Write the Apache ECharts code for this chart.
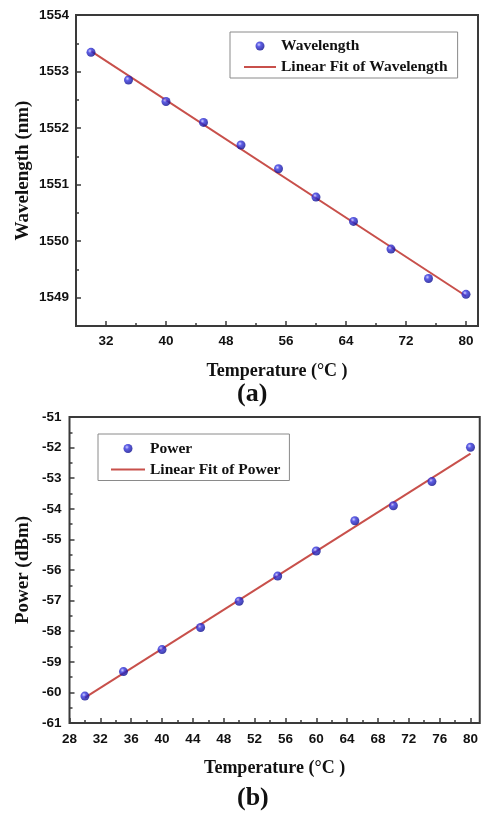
<!DOCTYPE html>
<html>
<head>
<meta charset="utf-8">
<script src="https://cdn.jsdelivr.net/npm/echarts@6/dist/echarts.min.js"></script>
<style>
  html, body { margin: 0; padding: 0; background: #fff; }
  #chart { width: 481px; height: 814px; }
</style>
</head>
<body>
<div id="chart"></div>
<script>
// (a) wavelength vs temperature
const tempA = [30, 35, 40, 45, 50, 55, 60, 65, 70, 75, 80]
const wavelength = [1553.34, 1552.85, 1552.47, 1552.10, 1551.70, 1551.28, 1550.78, 1550.35, 1549.86, 1549.34, 1549.06]
const wavelengthFitX = [30, 80]
const wavelengthFit = [1553.36, 1549.03]
const ticksAx = [32, 40, 48, 56, 64, 72, 80]
const minorAx = [36, 44, 52, 60, 68, 76]
const ticksAy = [1549, 1550, 1551, 1552, 1553, 1554]
const minorAy = [1549.5, 1550.5, 1551.5, 1552.5, 1553.5]

// (b) power vs temperature
const tempB = [30, 35, 40, 45, 50, 55, 60, 65, 70, 75, 80]
const power = [-60.12, -59.32, -58.6, -57.88, -57.02, -56.2, -55.38, -54.39, -53.9, -53.11, -51.99]
const powerFitX = [30, 80]
const powerFit = [-60.17, -52.2]
const ticksBx = [28, 32, 36, 40, 44, 48, 52, 56, 60, 64, 68, 72, 76, 80]
const minorBx = [30, 34, 38, 42, 46, 50, 54, 58, 62, 66, 70, 74, 78]
const ticksBy = [-61, -60, -59, -58, -57, -56, -55, -54, -53, -52, -51]
const minorBy = [-60.5, -59.5, -58.5, -57.5, -56.5, -55.5, -54.5, -53.5, -52.5, -51.5]

const chart = echarts.init(document.getElementById('chart'))

const sans = 'Liberation Sans'
const serif = 'Liberation Serif'
const frame = '#3a3a3a'
const fitColor = '#c8504b'

const ball = {
  type: 'radial', x: 0.38, y: 0.35, r: 0.65,
  colorStops: [
    { offset: 0, color: '#c4c4ff' },
    { offset: 0.35, color: '#3535e0' },
    { offset: 1, color: '#0e0e90' }
  ]
}

const tickLabel = (ticks, margin) => ({
  customValues: ticks, color: '#111', fontFamily: sans, fontWeight: 'bold', fontSize: 13.5, margin,
  formatter: v => String(Math.round(v))
})

const mainAxis = (gridIndex, min, max, ticks, pos, extra) => Object.assign({
  type: 'value', gridIndex, min, max, position: pos,
  nameMoveOverlap: false,
  axisLine: { show: false },
  axisTick: { show: true, inside: true, length: 5, customValues: ticks, lineStyle: { color: frame, width: 1.5 } },
  axisLabel: tickLabel(ticks, 8),
  splitLine: { show: false }
}, extra)

const minorAxis = (gridIndex, min, max, ticks, pos) => ({
  type: 'value', gridIndex, min, max, position: pos,
  axisLine: { show: false },
  axisTick: { show: true, inside: true, length: 3, customValues: ticks, lineStyle: { color: frame, width: 1.5 } },
  axisLabel: { show: false },
  splitLine: { show: false }
})

const nameStyle = { fontFamily: serif, fontWeight: 'bold', color: '#111' }

const legendBase = {
  orient: 'vertical',
  borderColor: '#8a8a8a',
  borderWidth: 1,
  itemHeight: 9,
  itemGap: 5,
  textStyle: { fontFamily: serif, fontWeight: 'bold', fontSize: 15.5, color: '#111', lineHeight: 15 }
}

chart.setOption({
  animation: false,
  grid: [
    { left: 76, top: 15, width: 402, height: 311, show: true, borderColor: frame, borderWidth: 2, backgroundColor: 'transparent' },
    { left: 69.5, top: 417, width: 411, height: 306, show: true, borderColor: frame, borderWidth: 2, backgroundColor: 'transparent' }
  ],
  xAxis: [
    mainAxis(0, 28, 81.6, ticksAx, 'bottom', {
      name: 'Temperature (°C )', nameLocation: 'middle', nameGap: 36,
      nameTextStyle: Object.assign({ fontSize: 18 }, nameStyle),
      axisLabel: tickLabel(ticksAx, 8)
    }),
    minorAxis(0, 28, 81.6, minorAx, 'bottom'),
    mainAxis(1, 28, 81.2, ticksBx, 'bottom', {
      name: 'Temperature (°C )', nameLocation: 'middle', nameGap: 36,
      nameTextStyle: Object.assign({ fontSize: 18 }, nameStyle),
      axisLabel: tickLabel(ticksBx, 9)
    }),
    minorAxis(1, 28, 81.2, minorBx, 'bottom')
  ],
  yAxis: [
    mainAxis(0, 1548.5, 1554, ticksAy, 'left', {
      name: 'Wavelength (nm)', nameLocation: 'middle', nameGap: 43,
      nameTextStyle: Object.assign({ fontSize: 19 }, nameStyle),
      axisLabel: tickLabel(ticksAy, 7)
    }),
    minorAxis(0, 1548.5, 1554, minorAy, 'left'),
    mainAxis(1, -61, -51, ticksBy, 'left', {
      name: 'Power (dBm)', nameLocation: 'middle', nameGap: 37,
      nameTextStyle: Object.assign({ fontSize: 19 }, nameStyle),
      axisLabel: tickLabel(ticksBy, 8)
    }),
    minorAxis(1, -61, -51, minorBy, 'left')
  ],
  legend: [
    Object.assign({}, legendBase, {
      left: 230, top: 32, padding: [6, 10, 3, 13], itemWidth: 32,
      data: [
        { name: 'Wavelength' },
        { name: 'Linear Fit of Wavelength', itemStyle: { opacity: 0 } }
      ]
    }),
    Object.assign({}, legendBase, {
      left: 98, top: 434, padding: [6.5, 9, 3, 12], itemWidth: 34,
      data: [
        { name: 'Power' },
        { name: 'Linear Fit of Power', itemStyle: { opacity: 0 } }
      ]
    })
  ],
  series: [
    {
      name: 'Linear Fit of Wavelength', type: 'line', xAxisIndex: 0, yAxisIndex: 0,
      data: wavelengthFitX.map((x, i) => [x, wavelengthFit[i]]),
      symbol: 'none', lineStyle: { color: fitColor, width: 2 }, itemStyle: { color: fitColor }, z: 2
    },
    {
      name: 'Wavelength', type: 'scatter', xAxisIndex: 0, yAxisIndex: 0,
      data: tempA.map((x, i) => [x, wavelength[i]]),
      symbol: 'circle', symbolSize: 9, itemStyle: { color: ball }, z: 3
    },
    {
      name: 'Linear Fit of Power', type: 'line', xAxisIndex: 2, yAxisIndex: 2,
      data: powerFitX.map((x, i) => [x, powerFit[i]]),
      symbol: 'none', lineStyle: { color: fitColor, width: 2 }, itemStyle: { color: fitColor }, z: 2
    },
    {
      name: 'Power', type: 'scatter', xAxisIndex: 2, yAxisIndex: 2,
      data: tempB.map((x, i) => [x, power[i]]),
      symbol: 'circle', symbolSize: 9, itemStyle: { color: ball }, z: 3
    }
  ],
  graphic: [
    { type: 'text', left: 237, top: 381, style: { text: '(a)', font: 'bold 26px "Liberation Serif"', fill: '#111' } },
    { type: 'text', left: 237, top: 785, style: { text: '(b)', font: 'bold 26px "Liberation Serif"', fill: '#111' } }
  ]
})

window.addEventListener('resize', () => chart.resize())
</script>
</body>
</html>
